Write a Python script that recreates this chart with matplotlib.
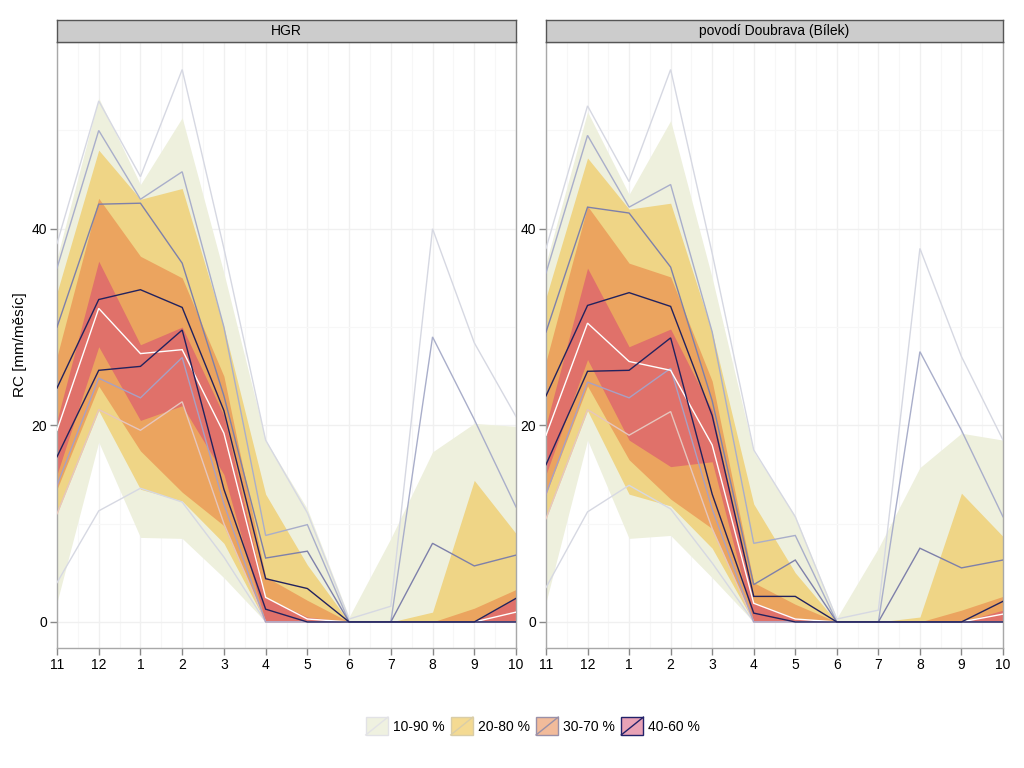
import matplotlib
matplotlib.use("Agg")
import matplotlib.pyplot as plt
from matplotlib.patches import Rectangle
from matplotlib.lines import Line2D
from matplotlib.legend_handler import HandlerBase
import numpy as np

plt.rcParams['font.family'] = ['Liberation Sans', 'DejaVu Sans']

months = ['11', '12', '1', '2', '3', '4', '5', '6', '7', '8', '9', '10']
panel_titles = ['HGR', 'povodí Doubrava (Bílek)']
band_labels = ['10-90 %', '20-80 %', '30-70 %', '40-60 %']

# ---- HGR : ribbons (lower / upper quantiles) ----
hgr_r10 = [2.0, 18.3, 8.6, 8.5, 4.5, 0, 0, 0, 0, 0, 0, 0]
hgr_r90 = [37.0, 53.3, 44.5, 51.3, 35.5, 18.5, 11.5, 0.5, 8.5, 17.3, 20.2, 19.9]
hgr_r20 = [11.0, 21.5, 13.5, 12.3, 8.0, 0, 0, 0, 0, 0, 0, 0]
hgr_r80 = [33.5, 48.0, 43.0, 44.1, 30.0, 13.0, 5.8, 0, 0, 1.0, 14.4, 9.0]
hgr_r30 = [13.5, 24.0, 17.4, 13.2, 9.8, 0, 0, 0, 0, 0, 0, 0]
hgr_r70 = [27.0, 43.1, 37.2, 35.0, 25.0, 4.6, 2.2, 0, 0, 0, 1.4, 3.3]
hgr_r40 = [15.0, 28.0, 20.5, 22.0, 15.0, 0, 0, 0, 0, 0, 0, 0]
hgr_r60 = [20.5, 36.7, 28.2, 30.0, 21.0, 2.5, 0.5, 0, 0, 0, 0, 2.4]
# ---- HGR : lines ----
hgr_l10 = [4.0, 11.3, 13.6, 12.2, 6.6, 0, 0, 0, 0, 0, 0, 0]
hgr_l20 = [11.0, 21.6, 19.5, 22.4, 10.0, 0, 0, 0, 0, 0, 0, 0]
hgr_l30 = [13.9, 24.8, 22.8, 26.9, 12.0, 0, 0, 0, 0, 0, 0, 0]
hgr_l40 = [16.8, 25.6, 26.0, 29.7, 13.5, 1.3, 0, 0, 0, 0, 0, 0]
hgr_l50 = [19.5, 31.9, 27.3, 27.7, 19.2, 2.5, 0.3, 0, 0, 0, 0, 1.0]
hgr_l60 = [23.8, 32.8, 33.8, 32.0, 21.5, 4.4, 3.4, 0, 0, 0, 0, 2.4]
hgr_l70 = [30.0, 42.5, 42.6, 36.5, 23.0, 6.5, 7.2, 0, 0, 8.0, 5.7, 6.8]
hgr_l80 = [36.0, 50.0, 43.0, 45.8, 30.0, 8.8, 9.9, 0, 0, 29.0, 20.6, 11.7]
hgr_l90 = [38.5, 53.0, 45.3, 56.2, 38.0, 18.5, 11.1, 0.3, 1.6, 40.0, 28.4, 20.9]

# ---- Doubrava : ribbons ----
dou_r10 = [2.0, 18.5, 8.5, 8.8, 4.5, 0, 0, 0, 0, 0, 0, 0]
dou_r90 = [36.5, 51.9, 43.5, 51.0, 35.0, 17.3, 10.8, 0.4, 7.5, 15.7, 19.2, 18.5]
dou_r20 = [10.5, 21.5, 13.0, 11.8, 7.5, 0, 0, 0, 0, 0, 0, 0]
dou_r80 = [33.0, 47.2, 42.0, 42.6, 29.5, 12.0, 5.0, 0, 0, 0.5, 13.1, 8.7]
dou_r30 = [13.0, 24.0, 16.5, 12.5, 9.5, 0, 0, 0, 0, 0, 0, 0]
dou_r70 = [26.5, 42.3, 36.5, 35.1, 24.5, 4.0, 1.8, 0, 0, 0, 1.2, 2.6]
dou_r40 = [15.0, 26.7, 18.5, 15.8, 16.3, 0, 0, 0, 0, 0, 0, 0]
dou_r60 = [20.0, 36.0, 28.0, 29.8, 21.5, 2.0, 0.4, 0, 0, 0, 0, 1.2]
# ---- Doubrava : lines ----
dou_l10 = [3.5, 11.2, 13.9, 11.5, 6.0, 0, 0, 0, 0, 0, 0, 0]
dou_l20 = [10.5, 21.6, 19.0, 21.4, 9.5, 0, 0, 0, 0, 0, 0, 0]
dou_l30 = [13.0, 24.4, 22.8, 25.8, 11.5, 0, 0, 0, 0, 0, 0, 0]
dou_l40 = [16.0, 25.5, 25.6, 28.9, 13.0, 0.9, 0, 0, 0, 0, 0, 0]
dou_l50 = [19.0, 30.4, 26.5, 25.6, 18.0, 1.9, 0.3, 0, 0, 0, 0, 0.8]
dou_l60 = [23.0, 32.2, 33.5, 32.1, 21.0, 2.6, 2.6, 0, 0, 0, 0, 2.1]
dou_l70 = [29.5, 42.2, 41.6, 36.1, 22.5, 3.8, 6.3, 0, 0, 7.5, 5.5, 6.3]
dou_l80 = [35.5, 49.5, 42.2, 44.5, 29.5, 8.0, 8.8, 0, 0, 27.5, 19.5, 10.7]
dou_l90 = [38.0, 52.5, 44.8, 56.2, 37.5, 17.5, 10.7, 0.3, 1.2, 38.0, 27.0, 18.5]

band_colors = ['#EEF0DD', '#EFD586', '#EBA45F', '#E0716A']
legend_fill = ['#EFF1E0', '#F4DA92', '#F2BB9A', '#E8A2B6']
legend_line = ['#E2E2E6', '#D9CDA8', '#9A90A8', '#22226A']
line_colors = {10: '#D6D8E2', 20: '#E6C6BE', 30: '#A8A0C4', 40: '#22225E',
               50: '#FFFFFF', 60: '#22225E', 70: '#7E80AA', 80: '#A9AECA', 90: '#D6D8E2'}

panels = [
    dict(r=[(hgr_r10, hgr_r90), (hgr_r20, hgr_r80), (hgr_r30, hgr_r70), (hgr_r40, hgr_r60)],
         l={10: hgr_l10, 20: hgr_l20, 30: hgr_l30, 40: hgr_l40, 50: hgr_l50,
            60: hgr_l60, 70: hgr_l70, 80: hgr_l80, 90: hgr_l90}),
    dict(r=[(dou_r10, dou_r90), (dou_r20, dou_r80), (dou_r30, dou_r70), (dou_r40, dou_r60)],
         l={10: dou_l10, 20: dou_l20, 30: dou_l30, 40: dou_l40, 50: dou_l50,
            60: dou_l60, 70: dou_l70, 80: dou_l80, 90: dou_l90}),
]

W, H = 1024, 768
fig = plt.figure(figsize=(W / 100, H / 100), dpi=100)
x = np.arange(len(months))
ymin, ymax = -2.65, 59.0
axes_px = [(57, 516), (546, 1003)]
top_px, bot_px = 42, 648
strip_top = 20

line_order = [90, 10, 80, 20, 70, 30, 50, 60, 40]

for i, (p, (x0, x1)) in enumerate(zip(panels, axes_px)):
    ax = fig.add_axes([x0 / W, 1 - bot_px / H, (x1 - x0) / W, (bot_px - top_px) / H])
    ax.set_xlim(0, len(months) - 1)
    ax.set_ylim(ymin, ymax)
    for (lo, hi), c in zip(p['r'], band_colors):
        ax.fill_between(x, lo, hi, color=c, lw=0, zorder=2)
    for q in line_order:
        ax.plot(x, p['l'][q], color=line_colors[q], lw=1.0, zorder=3,
                solid_joinstyle='miter')
    ax.set_xticks(x)
    ax.set_xticklabels(months, fontsize=10)
    ax.set_xticks(np.arange(0.5, len(months) - 1, 1.0), minor=True)
    ax.set_yticks([0, 20, 40])
    ax.set_yticks([10, 30, 50], minor=True)
    ax.tick_params(axis='both', which='major', length=5, width=1, color='#888888',
                   labelsize=10, labelcolor='black', pad=2)
    ax.tick_params(axis='both', which='minor', length=0)
    ax.grid(True, which='major', color='#F0F0F0', lw=1.0, zorder=0)
    ax.grid(True, which='minor', color='#F7F7F7', lw=0.8, zorder=0)
    ax.set_axisbelow(True)
    for s in ax.spines.values():
        s.set_color('#A8A8A8')
        s.set_linewidth(1.0)
    # facet strip
    sax = fig.add_axes([x0 / W, 1 - top_px / H, (x1 - x0) / W, (top_px - strip_top) / H])
    sax.set_facecolor('#CCCCCC')
    sax.set_xticks([])
    sax.set_yticks([])
    for s in sax.spines.values():
        s.set_color('#555555')
        s.set_linewidth(1.0)
    sax.text(0.5, 0.5, panel_titles[i], ha='center', va='center', fontsize=10,
             transform=sax.transAxes)
    if i == 0:
        ax.set_ylabel('RC [mm/měsíc]', fontsize=11, labelpad=3)


class KeyHandle:
    def __init__(self, face, line):
        self.face = face
        self.line = line


class BoxDiag(HandlerBase):
    def create_artists(self, legend, orig_handle, xdescent, ydescent, width, height,
                       fontsize, trans):
        r = Rectangle((-xdescent, -ydescent), width, height, facecolor=orig_handle.face,
                      edgecolor=orig_handle.line, lw=1.0, transform=trans)
        ln = Line2D([-xdescent, -xdescent + width], [-ydescent, -ydescent + height],
                    color=orig_handle.line, lw=1.0, transform=trans)
        return [r, ln]


handles = [KeyHandle(f, l) for f, l in zip(legend_fill, legend_line)]
fig.legend(handles, band_labels, handler_map={KeyHandle: BoxDiag()},
           loc='center', bbox_to_anchor=(533 / W, 1 - 726 / H), ncol=4, frameon=False,
           fontsize=10, handlelength=1.6, handleheight=1.6, handletextpad=0.35,
           columnspacing=0.45)

fig.savefig('out.png', dpi=100)
